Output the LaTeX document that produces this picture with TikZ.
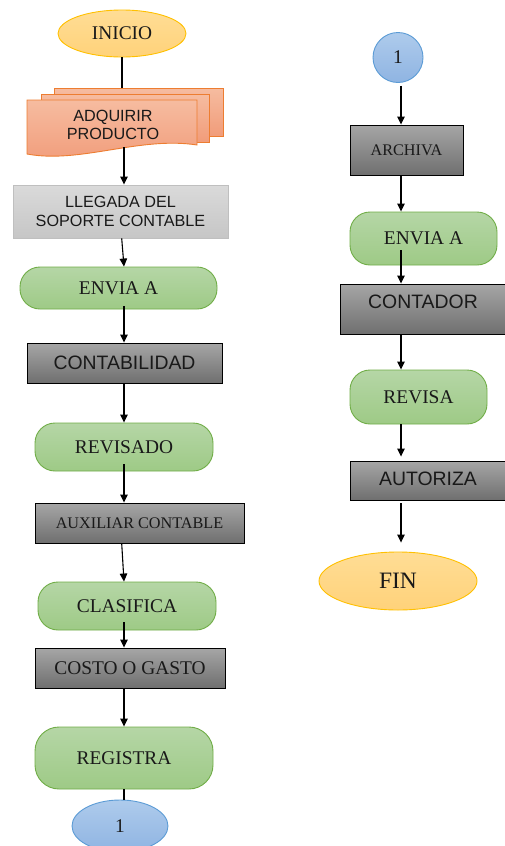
\documentclass[tikz,border=0pt]{standalone}
\usepackage{fontspec}
\setmainfont{Liberation Serif}
\setsansfont{Liberation Sans}
\usetikzlibrary{shapes.geometric,arrows.meta}

\definecolor{verdeA}{HTML}{B5D6A6}
\definecolor{verdeB}{HTML}{9ECA86}
\definecolor{verdeL}{HTML}{70AD47}
\definecolor{grisA}{HTML}{A6A6A6}
\definecolor{grisB}{HTML}{6F6F6F}
\definecolor{clarA}{HTML}{DADADA}
\definecolor{clarB}{HTML}{C6C6C6}
\definecolor{clarL}{HTML}{BFBFBF}
\definecolor{azulA}{HTML}{AECBEC}
\definecolor{azulB}{HTML}{8FB4E2}
\definecolor{azulL}{HTML}{5B9BD5}
\definecolor{oroA}{HTML}{FFDD95}
\definecolor{oroB}{HTML}{FFD27A}
\definecolor{oroL}{HTML}{FFC000}
\definecolor{salmA}{HTML}{F6BCA0}
\definecolor{salmB}{HTML}{F19C7A}
\definecolor{salmL}{HTML}{ED7D31}

\tikzset{
	base/.style={inner sep=0pt, align=center, text=black!90, line width=0.9pt,
		font=\fontsize{19.4}{22}\selectfont},
	chico/.style={font=\fontsize{16.2}{18.3}\selectfont},
	sans/.style={font=\sffamily\fontsize{19.4}{22}\selectfont},
	sanschico/.style={font=\sffamily\fontsize{16.2}{18.3}\selectfont},
	paso/.style={base, rectangle, rounded corners=20pt, draw=verdeL, top color=verdeA, bottom color=verdeB},
	caja/.style={base, rectangle, draw=black, top color=grisA, bottom color=grisB},
	cajaclara/.style={base, rectangle, draw=clarL, top color=clarA, bottom color=clarB},
	terminal/.style={base, ellipse, draw=oroL, top color=oroA, bottom color=oroB},
	conector/.style={base, ellipse, draw=azulL, top color=azulA, bottom color=azulB},
	hoja/.style={line width=0.9pt, draw=salmL, top color=salmA, bottom color=salmB},
	linea/.style={line width=1.1pt},
	flecha/.style={line width=1.1pt, -{Triangle[length=8pt,width=7.5pt]}}
}

\begin{document}
\begin{tikzpicture}[x=1pt, y=-1pt]
	\useasboundingbox (0,0) rectangle (504,846);

	% columna izquierda
	\node[terminal, minimum width=128, minimum height=47] (inicio) at (122,33.5) {INICIO};
	\node[hoja, minimum width=169, minimum height=48] (hoja3) at (138.5,112) {};
	\node[hoja, minimum width=168, minimum height=48] (hoja2) at (125,118) {};
	\path[hoja] (27,100) -- (197,100) -- (197,145) .. controls (140,136) and (80,164) .. (27,154) -- cycle;
	\node[base, sanschico] (adq) at (113,125) {ADQUIRIR\\PRODUCTO};
	\coordinate (adqpie) at (124,147);
	\node[cajaclara, sanschico, minimum width=215, minimum height=53] (llegada) at (120.5,211.5) {LLEGADA DEL\\SOPORTE CONTABLE};
	\node[paso, minimum width=197, minimum height=42] (envia) at (118.5,288) {ENVIA A};
	\node[caja, sans, minimum width=195, minimum height=40] (contab) at (124.5,363) {CONTABILIDAD};
	\node[paso, minimum width=178, minimum height=48] (revisado) at (124,447) {REVISADO};
	\node[caja, chico, minimum width=209, minimum height=40] (auxiliar) at (139.5,523) {AUXILIAR CONTABLE};
	\node[paso, minimum width=178, minimum height=48] (clasifica) at (127,606) {CLASIFICA};
	\node[caja, minimum width=190, minimum height=40] (costo) at (130,668) {COSTO O GASTO};
	\node[paso, rounded corners=24pt, minimum width=178, minimum height=62] (registra) at (124,758) {REGISTRA};
	\node[conector, minimum width=96, minimum height=52] (unoA) at (120,826) {1};

	% columna derecha
	\node[conector, circle, minimum size=50] (unoB) at (398,57.5) {1};
	\node[caja, chico, minimum width=113, minimum height=50] (archiva) at (406.5,150) {ARCHIVA};
	\node[paso, minimum width=147, minimum height=53] (envia2) at (423.5,238.5) {ENVIA A};
	\node[caja, sans, text depth=14pt, minimum width=166, minimum height=50] (contador) at (423,309) {CONTADOR};
	\node[paso, minimum width=137, minimum height=54] (revisa) at (418.5,397) {REVISA};
	\node[caja, sans, text depth=4pt, minimum width=156, minimum height=39] (autoriza) at (428,480.5) {AUTORIZA};
	\node[terminal, font=\fontsize{23.5}{26}\selectfont, minimum width=158, minimum height=58] (fin) at (398,581) {FIN};

	\coordinate (lx) at (124,0);
	\coordinate (lxb) at (121.7,0);
	\coordinate (rx) at (401,0);

	\draw[linea]  (inicio.south) -- (inicio.south |- hoja3.north);
	\draw[flecha] (adqpie) -- (llegada.north -| lx);
	\draw[flecha] (llegada.south -| lxb) -- (envia.north -| lx);
	\draw[flecha] ([yshift=3pt]envia.south -| lx) -- (contab.north -| lx);
	\draw[flecha] (contab.south -| lx) -- (revisado.north -| lx);
	\draw[flecha] ([yshift=7pt]revisado.south -| lx) -- (auxiliar.north -| lx);
	\draw[flecha] (auxiliar.south -| lxb) -- (clasifica.north -| lx);
	\draw[flecha] ([yshift=8pt]clasifica.south -| lx) -- (costo.north -| lx);
	\draw[flecha] (costo.south -| lx) -- (registra.north -| lx);
	\draw[linea]  (registra.south -| lx) -- (unoA.north -| lx);

	\draw[flecha] ([yshift=-3pt]unoB.south -| rx) -- (archiva.north -| rx);
	\draw[flecha] (archiva.south -| rx) -- (envia2.north -| rx);
	\draw[flecha] ([yshift=15pt]envia2.south -| rx) -- (contador.north -| rx);
	\draw[flecha] (contador.south -| rx) -- (revisa.north -| rx);
	\draw[flecha] (revisa.south -| rx) -- ([yshift=4pt]autoriza.north -| rx);
	\draw[flecha] ([yshift=-3pt]autoriza.south -| rx) -- ([yshift=9pt]fin.north -| rx);
\end{tikzpicture}
\end{document}
